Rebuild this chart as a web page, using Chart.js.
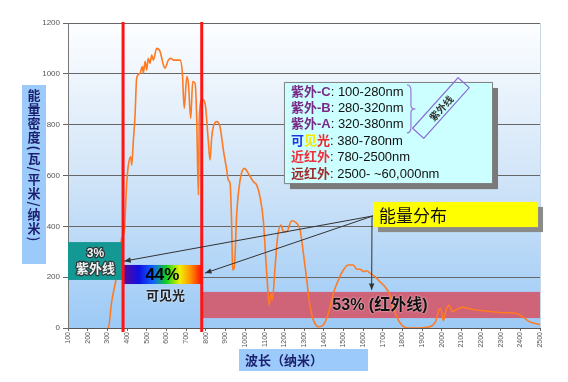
<!DOCTYPE html>
<html>
<head>
<meta charset="utf-8">
<script src="https://cdn.jsdelivr.net/npm/chart.js@4.4.0/dist/chart.umd.min.js"></script>
<style>
html, body { margin: 0; padding: 0; background: #fff; }
canvas { display: block; }
</style>
</head>
<body>
<canvas id="solarChart" width="568" height="382"></canvas>
<script>
// wavelength (nm) / spectral energy density
const wavelengths = [300, 305, 322, 342, 356, 373, 386, 398, 407, 419, 424, 432, 441, 449, 466, 478, 483, 492, 500, 508,
  517, 526, 534, 551, 568, 585, 593, 610, 624, 636, 670, 681, 691, 704, 712, 724, 734, 746, 754, 763,
  768, 783, 797, 813, 822, 831, 839, 856, 873, 890, 907, 915, 924, 932, 937, 946, 958, 975, 997, 1017,
  1042, 1059, 1076, 1093, 1105, 1115, 1122, 1132, 1139, 1153, 1166, 1183, 1195, 1212, 1237, 1263, 1280, 1297, 1314, 1331,
  1348, 1373, 1398, 1424, 1449, 1475, 1500, 1525, 1551, 1568, 1585, 1602, 1619, 1636, 1661, 1686, 1712, 1737, 1754, 1771,
  1797, 1830, 1870, 1918, 1969, 1986, 1995, 2009, 2020, 2037, 2054, 2071, 2105, 2156, 2224, 2326, 2377, 2411, 2445, 2492, 2500];
const irradiance = [0, 0, 103, 182, 235, 353, 379, 563, 641, 674, 641, 733, 838, 982, 1002, 1029, 1002, 1049, 1015, 1061,
  1041, 1074, 1054, 1100, 1088, 1035, 1022, 1054, 1061, 1054, 1054, 1009, 864, 989, 963, 825, 970, 963, 838, 523,
  838, 900, 884, 740, 661, 753, 792, 812, 792, 700, 622, 582, 569, 412, 228, 241, 451, 582, 628, 608,
  576, 563, 517, 425, 281, 162, 90, 136, 110, 241, 359, 405, 379, 379, 422, 412, 386, 294, 189, 84,
  31, 5, 12, 58, 136, 189, 228, 248, 248, 231, 231, 222, 225, 215, 202, 182, 162, 130, 84, 45,
  12, 0, 0, 2, 25, 71, 77, 29, 64, 90, 64, 71, 81, 73, 67, 60, 58, 45, 25, 15, 14];

const xTicks = [100, 200, 300, 400, 500, 600, 700, 800, 900, 1000, 1100, 1200, 1300, 1400, 1500,
  1600, 1700, 1800, 1900, 2000, 2100, 2200, 2300, 2400, 2500];
const yTicks = [0, 200, 400, 600, 800, 1000, 1200];

const bandLimits = [380, 780];
const shareLabels = ['3%', '44%', '53% (红外线)'];
const bandNames = ['紫外线', '可见光'];
const legendNames = ['紫外-C', '紫外-B', '紫外-A', '可见光', '近红外', '远红外'];
const legendRanges = [': 100-280nm', ': 280-320nm', ': 320-380nm', ': 380-780nm', ': 780-2500nm', ': 2500- ~60,000nm'];
const calloutText = '能量分布';
const xTitle = '波长（纳米）';
const yTitle = '能量密度(瓦/平米/纳米)';

const nameColors = [['#7a2a86'], ['#7a2a86'], ['#7a2a86'], ['#1f35e0', '#f5e800', '#f02828'], ['#f0303c'], ['#a02c2c']];
const FONT = '"Liberation Sans", "Noto Sans CJK SC", sans-serif';

function arrow(ctx, x1, y1, x2, y2) {
  const ang = Math.atan2(y2 - y1, x2 - x1);
  ctx.beginPath();
  ctx.moveTo(x1, y1);
  ctx.lineTo(x2, y2);
  ctx.stroke();
  ctx.beginPath();
  ctx.moveTo(x2, y2);
  ctx.lineTo(x2 - 7 * Math.cos(ang - 0.4), y2 - 7 * Math.sin(ang - 0.4));
  ctx.lineTo(x2 - 7 * Math.cos(ang + 0.4), y2 - 7 * Math.sin(ang + 0.4));
  ctx.closePath();
  ctx.fill();
}

const overlay = {
  id: 'overlay',
  beforeDraw(chart) {
    const { ctx, chartArea: a } = chart;
    const g = ctx.createLinearGradient(0, a.top, 0, a.bottom);
    g.addColorStop(0, '#fdfeff');
    g.addColorStop(0.5, '#d2e5f8');
    g.addColorStop(1, '#9ccaf6');
    ctx.save();
    ctx.fillStyle = g;
    ctx.fillRect(a.left, a.top, a.right - a.left, a.bottom - a.top);
    ctx.restore();
  },
  beforeDatasetsDraw(chart) {
    const { ctx, scales: { x, y } } = chart;
    // infrared band
    ctx.save();
    ctx.fillStyle = '#cf6378';
    const x1 = x.getPixelForValue(bandLimits[1]), x2 = x.getPixelForValue(2500);
    const y1 = y.getPixelForValue(142), y2 = y.getPixelForValue(39);
    ctx.fillRect(x1, y1, x2 - x1, y2 - y1);
    ctx.restore();
  },
  afterDatasetsDraw(chart) {
    const { ctx, chartArea: a, scales: { x, y } } = chart;
    ctx.save();

    // UV box
    const ux1 = x.getPixelForValue(100), ux2 = x.getPixelForValue(bandLimits[0]);
    const uy1 = y.getPixelForValue(338), uy2 = y.getPixelForValue(189);
    ctx.fillStyle = '#149893';
    ctx.fillRect(ux1, uy1, ux2 - ux1, uy2 - uy1);
    ctx.textAlign = 'center';
    ctx.textBaseline = 'middle';
    ctx.lineJoin = 'round';
    ctx.strokeStyle = '#2a3a3a';
    ctx.lineWidth = 2.5;
    ctx.fillStyle = '#f2f2f2';
    ctx.font = 'bold 12px ' + FONT;
    ctx.strokeText(shareLabels[0], (ux1 + ux2) / 2, uy1 + 12);
    ctx.fillText(shareLabels[0], (ux1 + ux2) / 2, uy1 + 12);
    ctx.font = 'bold 13px ' + FONT;
    ctx.strokeText(bandNames[0], (ux1 + ux2) / 2, uy1 + 27);
    ctx.fillText(bandNames[0], (ux1 + ux2) / 2, uy1 + 27);

    // visible rainbow bar
    const vx1 = x.getPixelForValue(bandLimits[0]), vx2 = x.getPixelForValue(bandLimits[1]);
    const vy1 = y.getPixelForValue(248), vy2 = y.getPixelForValue(173);
    const rg = ctx.createLinearGradient(vx1, 0, vx2, 0);
    rg.addColorStop(0, '#5a0a9a');
    rg.addColorStop(0.2, '#1010e0');
    rg.addColorStop(0.38, '#1060ff');
    rg.addColorStop(0.55, '#10d020');
    rg.addColorStop(0.72, '#f0f000');
    rg.addColorStop(0.86, '#ff9000');
    rg.addColorStop(1, '#ff1000');
    ctx.fillStyle = rg;
    ctx.fillRect(vx1, vy1, vx2 - vx1, vy2 - vy1);
    ctx.fillStyle = '#000';
    ctx.font = 'bold 17px ' + FONT;
    ctx.fillText(shareLabels[1], (vx1 + vx2) / 2, (vy1 + vy2) / 2 + 1);
    ctx.shadowColor = 'rgba(255,255,255,0.9)';
    ctx.shadowBlur = 2;
    ctx.fillStyle = '#222';
    ctx.font = 'bold 13px "Noto Sans CJK SC", sans-serif';
    ctx.fillText(bandNames[1], (vx1 + vx2) / 2 + 3, vy2 + 11);
    ctx.font = 'bold 16px ' + FONT;
    ctx.fillStyle = '#111';
    ctx.fillText(shareLabels[2], x.getPixelForValue(1686), y.getPixelForValue(88));
    ctx.shadowBlur = 0;
    ctx.shadowColor = 'transparent';

    // red band limits
    ctx.strokeStyle = '#ff1414';
    ctx.lineWidth = 3;
    bandLimits.forEach(v => {
      const px = x.getPixelForValue(v);
      ctx.beginPath();
      ctx.moveTo(px, a.top - 1);
      ctx.lineTo(px, a.bottom + 4);
      ctx.stroke();
    });

    // right border of the plot
    ctx.strokeStyle = '#c9d6e4';
    ctx.lineWidth = 1;
    ctx.beginPath();
    ctx.moveTo(a.right + 0.5, a.top);
    ctx.lineTo(a.right + 0.5, a.bottom);
    ctx.stroke();

    // legend box
    const lx1 = x.getPixelForValue(1198), lx2 = x.getPixelForValue(2256);
    const ly1 = y.getPixelForValue(968), ly2 = y.getPixelForValue(570);
    ctx.fillStyle = '#7a7a7a';
    ctx.fillRect(lx1 + 6, ly1 + 6, lx2 - lx1, ly2 - ly1);
    ctx.fillStyle = '#ccffff';
    ctx.fillRect(lx1, ly1, lx2 - lx1, ly2 - ly1);
    ctx.strokeStyle = '#808080';
    ctx.strokeRect(lx1 + 0.5, ly1 + 0.5, lx2 - lx1, ly2 - ly1);
    ctx.textAlign = 'left';
    legendNames.forEach((name, i) => {
      let tx = lx1 + 7;
      const ty = ly1 + 10 + i * 16.4;
      ctx.font = 'bold 13px ' + FONT;
      const cols = nameColors[i];
      if (cols.length > 1) {
        [...name].forEach((ch, k) => {
          ctx.fillStyle = cols[k];
          ctx.fillText(ch, tx, ty);
          tx += ctx.measureText(ch).width;
        });
      } else {
        ctx.fillStyle = cols[0];
        ctx.fillText(name, tx, ty);
        tx += ctx.measureText(name).width;
      }
      ctx.font = '13px ' + FONT;
      ctx.fillStyle = '#111';
      ctx.fillText(legendRanges[i], tx, ty);
    });

    // brace for the three UV lines
    const bx = lx1 + 123, by1 = ly1 + 3, by2 = ly1 + 51;
    const bm = (by1 + by2) / 2;
    ctx.strokeStyle = '#9a78d8';
    ctx.lineWidth = 1.2;
    ctx.beginPath();
    ctx.moveTo(bx, by1);
    ctx.quadraticCurveTo(bx + 4, by1, bx + 4, by1 + 6);
    ctx.lineTo(bx + 4, bm - 4);
    ctx.quadraticCurveTo(bx + 4, bm, bx + 8, bm);
    ctx.quadraticCurveTo(bx + 4, bm, bx + 4, bm + 4);
    ctx.lineTo(bx + 4, by2 - 6);
    ctx.quadraticCurveTo(bx + 4, by2, bx, by2);
    ctx.stroke();

    // rotated UV tag
    ctx.save();
    ctx.translate(lx1 + 157, ly1 + 26);
    ctx.rotate(-48 * Math.PI / 180);
    ctx.strokeStyle = '#8a6ad6';
    ctx.strokeRect(-34, -7.5, 68, 15);
    ctx.fillStyle = '#333';
    ctx.textAlign = 'center';
    ctx.font = 'bold 10px "Noto Sans CJK SC", sans-serif';
    ctx.fillText(bandNames[0], 0, 0.5);
    ctx.restore();

    // callout box
    const cx1 = x.getPixelForValue(1651), cx2 = x.getPixelForValue(2490);
    const cy1 = y.getPixelForValue(496), cy2 = y.getPixelForValue(397);
    ctx.fillStyle = '#8a8a8a';
    ctx.fillRect(cx1 + 5, cy1 + 5, cx2 - cx1, cy2 - cy1);
    ctx.fillStyle = '#ffff00';
    ctx.fillRect(cx1, cy1, cx2 - cx1, cy2 - cy1);
    ctx.fillStyle = '#111';
    ctx.font = '17px "Noto Sans CJK SC", sans-serif';
    ctx.fillText(calloutText, cx1 + 6, (cy1 + cy2) / 2 + 1);

    // arrows
    ctx.strokeStyle = '#333';
    ctx.fillStyle = '#333';
    ctx.lineWidth = 1;
    const sx = cx1, sy = y.getPixelForValue(441);
    arrow(ctx, sx, sy, x.getPixelForValue(386), y.getPixelForValue(263));
    arrow(ctx, sx, sy, x.getPixelForValue(797), y.getPixelForValue(216));
    arrow(ctx, sx - 1, sy, x.getPixelForValue(1644), y.getPixelForValue(150));

    // y axis title (vertical stacked text)
    ctx.fillStyle = '#9ccafa';
    ctx.fillRect(22, 85, 24, 179);
    ctx.fillStyle = '#1c1f6e';
    ctx.font = 'bold 13px "Noto Sans CJK SC", sans-serif';
    ctx.textAlign = 'center';
    let yy = 95;
    [...yTitle].forEach(ch => {
      const punct = '(/)'.includes(ch);
      if (punct) {
        yy -= 3;
        ctx.save();
        ctx.translate(34, yy);
        ctx.rotate(Math.PI / 2);
        ctx.fillText(ch, 0, 0);
        ctx.restore();
        yy += 10;
      } else {
        ctx.fillText(ch, 34, yy);
        yy += 14;
      }
    });

    // x axis title
    ctx.fillStyle = '#9ccafa';
    ctx.fillRect(239, 349, 129, 22);
    ctx.fillStyle = '#1c1f6e';
    ctx.textAlign = 'left';
    ctx.font = 'bold 13px "Noto Sans CJK SC", sans-serif';
    ctx.fillText(xTitle, 245, 360);

    ctx.restore();
  }
};

new Chart(document.getElementById('solarChart'), {
  type: 'line',
  data: {
    datasets: [{
      data: wavelengths.map((w, i) => ({ x: w, y: irradiance[i] })),
      borderColor: '#ff7a22',
      borderWidth: 1.6,
      pointRadius: 0,
      cubicInterpolationMode: 'monotone',
      fill: false
    }]
  },
  options: {
    responsive: false,
    devicePixelRatio: 1,
    animation: false,
    layout: { padding: { top: 23, right: 28, left: 0, bottom: 0 } },
    plugins: { legend: { display: false }, tooltip: { enabled: false } },
    scales: {
      x: {
        type: 'linear',
        min: 100,
        max: 2500,
        afterBuildTicks: s => { s.ticks = xTicks.map(v => ({ value: v })); },
        afterFit: s => { s.height = 54; },
        grid: { drawOnChartArea: false, color: '#666', tickLength: 3 },
        border: { color: '#555' },
        ticks: {
          autoSkip: false, minRotation: 90, maxRotation: 90, padding: 1, color: '#555',
          font: { size: 7, family: FONT },
          callback: v => String(v)
        }
      },
      y: {
        min: 0,
        max: 1200,
        afterBuildTicks: s => { s.ticks = yTicks.map(v => ({ value: v })); },
        afterFit: s => { s.width = 68; },
        grid: { color: '#666', tickLength: 5 },
        border: { color: '#777' },
        ticks: { padding: 3, color: '#555', font: { size: 8, family: FONT }, callback: v => String(v) }
      }
    }
  },
  plugins: [overlay]
});
</script>
</body>
</html>
